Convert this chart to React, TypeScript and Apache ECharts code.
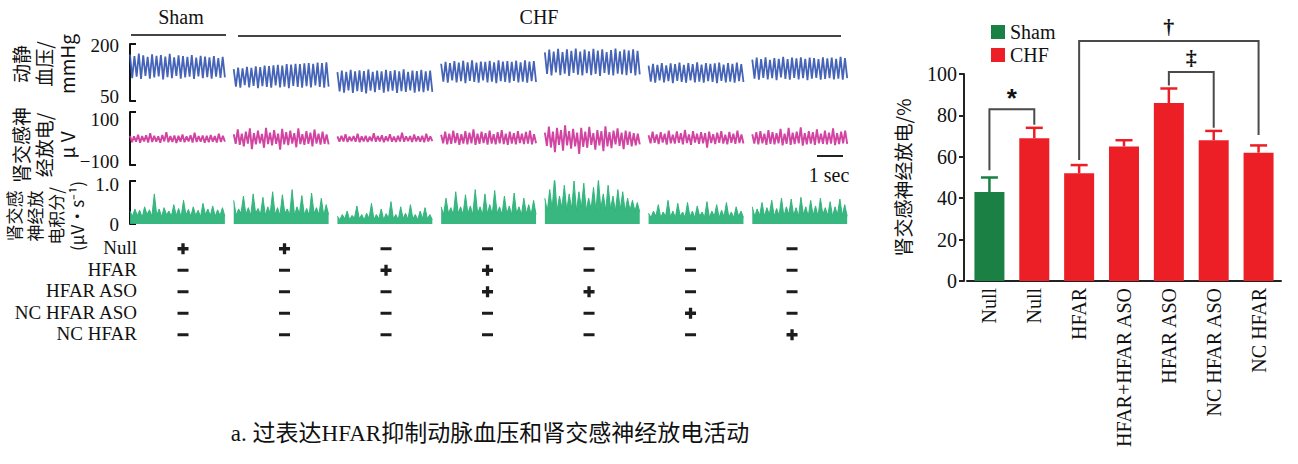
import React, { useEffect, useRef } from "react";
import * as echarts from "echarts";

// ---------- data ----------
const groupLabels = ["Sham", "CHF"];

// arterial blood pressure traces (mmHg), one list per panel
const bpPanels: number[][] = [
  [172, 110, 168, 114, 175, 108, 170, 116, 166, 109, 173, 112, 169, 115, 171, 107, 167, 113, 174, 110, 165, 116, 170, 109, 168, 112, 166, 114, 171, 108, 164, 115, 169, 110, 167, 113, 165, 109, 168, 114, 163, 111, 166, 112],
  [134, 88, 138, 85, 136, 92, 140, 86, 137, 90, 141, 84, 139, 89, 143, 87, 142, 85, 144, 91, 145, 86, 143, 88, 147, 84, 146, 90, 148, 87, 147, 85, 149, 89, 150, 86, 148, 91, 151, 87, 150, 85, 152, 88],
  [126, 75, 130, 72, 127, 78, 132, 71, 128, 76, 131, 74, 129, 70, 133, 77, 127, 73, 130, 79, 128, 72, 132, 75, 129, 77, 131, 71, 128, 76, 133, 74, 127, 78, 130, 72, 129, 75, 132, 73, 128, 77, 130, 74],
  [148, 101, 153, 98, 150, 104, 155, 99, 151, 102, 156, 97, 152, 103, 157, 100, 151, 98, 154, 104, 153, 99, 156, 101, 152, 97, 157, 102, 154, 100, 155, 98, 153, 103, 156, 99, 152, 101, 157, 98, 154, 102, 155, 100],
  [178, 121, 185, 117, 180, 125, 187, 118, 179, 122, 186, 116, 182, 124, 188, 119, 180, 117, 185, 123, 181, 118, 187, 121, 183, 116, 186, 124, 179, 119, 184, 117, 188, 122, 181, 120, 185, 118, 183, 123, 186, 117, 182, 120],
  [143, 101, 148, 98, 145, 104, 150, 99, 144, 102, 149, 97, 147, 103, 151, 100, 145, 98, 150, 104, 147, 99, 152, 101, 146, 98, 150, 102, 148, 100, 149, 97, 151, 103, 146, 99, 150, 101, 148, 98, 151, 102, 147, 100],
  [159, 109, 164, 106, 160, 111, 165, 107, 158, 110, 163, 105, 161, 112, 166, 108, 160, 106, 164, 111, 162, 107, 165, 110, 161, 105, 164, 109, 163, 111, 160, 106, 165, 108, 162, 110, 164, 107, 161, 109, 166, 106, 163, 110],
];

// renal sympathetic nerve activity traces (µV)
const nervePanels: number[][] = [
  [10, -14, 8, -12, 14, -16, 9, -11, 12, -15, 20, -13, 10, -12, 8, -16, 13, -11, 24, -14, 9, -13, 11, -17, 10, -12, 15, -14, 8, -11, 12, -15, 22, -13, 9, -12, 11, -16, 10, -14, 13, -12, 9, -15, 18, -13, 10, -12],
  [16, -20, 34, -24, 18, -30, 26, -19, 38, -40, 20, -22, 30, -18, 17, -35, 40, -21, 22, -26, 32, -20, 18, -42, 36, -22, 24, -25, 30, -19, 20, -33, 38, -21, 16, -24, 28, -20, 22, -30, 34, -19, 18, -23, 26, -20, 15, -22],
  [8, -12, 10, -11, 16, -13, 7, -10, 9, -12, 18, -14, 8, -11, 10, -13, 7, -10, 20, -12, 9, -11, 12, -14, 8, -10, 16, -12, 7, -13, 10, -11, 22, -12, 8, -10, 9, -13, 15, -11, 8, -12, 10, -14, 18, -11, 8, -10],
  [14, -18, 26, -22, 18, -20, 30, -17, 20, -24, 16, -19, 28, -22, 22, -18, 34, -24, 18, -20, 26, -17, 20, -23, 30, -19, 16, -22, 24, -18, 32, -21, 18, -24, 26, -19, 20, -22, 28, -17, 18, -21, 25, -19, 30, -22, 16, -18],
  [22, -28, 45, -34, 26, -52, 40, -24, 32, -46, 50, -26, 28, -38, 36, -30, 22, -58, 40, -32, 26, -35, 44, -24, 20, -42, 32, -26, 28, -48, 46, -30, 24, -36, 30, -22, 38, -28, 22, -40, 30, -24, 26, -30, 20, -26, 18, -22],
  [12, -18, 26, -16, 15, -21, 24, -15, 18, -23, 30, -18, 14, -19, 27, -16, 20, -22, 32, -17, 15, -24, 28, -15, 18, -20, 24, -18, 20, -34, 26, -17, 16, -21, 22, -16, 28, -19, 14, -22, 25, -16, 18, -20, 30, -17, 15, -19],
  [16, -19, 24, -22, 28, -18, 18, -24, 32, -20, 24, -22, 20, -18, 36, -26, 18, -20, 40, -24, 22, -21, 26, -18, 42, -27, 20, -22, 28, -19, 24, -24, 34, -18, 18, -20, 30, -22, 22, -19, 38, -25, 20, -21, 26, -18, 30, -20],
];

// integrated nerve activity traces (µV·s⁻¹)
const integPanels: number[][] = [
  [0.30, 0.18, 0.35, 0.20, 0.32, 0.15, 0.40, 0.22, 0.33, 0.18, 0.70, 0.20, 0.35, 0.17, 0.38, 0.22, 0.30, 0.18, 0.45, 0.20, 0.36, 0.16, 0.55, 0.21, 0.34, 0.18, 0.40, 0.20, 0.32, 0.17, 0.48, 0.22, 0.35, 0.19, 0.42, 0.18, 0.33, 0.20, 0.38, 0.18],
  [0.55, 0.20, 0.35, 0.25, 0.65, 0.22, 0.38, 0.20, 0.70, 0.25, 0.36, 0.22, 0.62, 0.20, 0.40, 0.24, 0.75, 0.22, 0.38, 0.20, 0.68, 0.25, 0.35, 0.22, 0.80, 0.20, 0.40, 0.24, 0.66, 0.22, 0.36, 0.20, 0.72, 0.25, 0.38, 0.22, 0.60, 0.20, 0.45, 0.22],
  [0.18, 0.10, 0.22, 0.12, 0.30, 0.10, 0.20, 0.14, 0.42, 0.12, 0.22, 0.10, 0.25, 0.13, 0.48, 0.11, 0.22, 0.12, 0.35, 0.10, 0.24, 0.14, 0.52, 0.12, 0.22, 0.10, 0.40, 0.13, 0.25, 0.11, 0.45, 0.12, 0.22, 0.10, 0.30, 0.13, 0.38, 0.12, 0.22, 0.10],
  [0.40, 0.22, 0.60, 0.25, 0.38, 0.22, 0.75, 0.25, 0.40, 0.22, 0.68, 0.24, 0.42, 0.22, 0.80, 0.25, 0.40, 0.22, 0.70, 0.24, 0.45, 0.22, 0.78, 0.25, 0.40, 0.22, 0.65, 0.24, 0.42, 0.22, 0.72, 0.25, 0.40, 0.22, 0.60, 0.24, 0.45, 0.22, 0.55, 0.22],
  [0.60, 0.30, 0.80, 0.35, 1.10, 0.30, 0.65, 0.38, 0.90, 0.32, 0.70, 0.35, 1.00, 0.30, 0.75, 0.38, 0.95, 0.32, 0.60, 0.35, 0.85, 0.30, 1.05, 0.36, 0.70, 0.32, 0.90, 0.35, 0.65, 0.30, 0.80, 0.34, 0.75, 0.30, 0.60, 0.32, 0.55, 0.30, 0.50, 0.28],
  [0.25, 0.15, 0.30, 0.18, 0.45, 0.15, 0.28, 0.18, 0.55, 0.16, 0.30, 0.15, 0.48, 0.18, 0.28, 0.15, 0.50, 0.17, 0.30, 0.15, 0.42, 0.18, 0.28, 0.16, 0.52, 0.15, 0.30, 0.18, 0.45, 0.15, 0.32, 0.17, 0.50, 0.16, 0.28, 0.15, 0.40, 0.18, 0.30, 0.15],
  [0.40, 0.18, 0.35, 0.20, 0.50, 0.18, 0.38, 0.22, 0.55, 0.18, 0.36, 0.20, 0.60, 0.18, 0.40, 0.22, 0.58, 0.20, 0.38, 0.18, 0.62, 0.22, 0.40, 0.18, 0.55, 0.20, 0.42, 0.18, 0.60, 0.22, 0.38, 0.20, 0.52, 0.18, 0.40, 0.22, 0.58, 0.20, 0.45, 0.18],
];

// axis ticks (bracket ends) and their labels
const bpTicks = [50, 200];
const bpTickLabels = ["50", "200"];
const nerveTicks = [-100, 100];
const nerveTickLabels = ["−100", "100"];
const integTicks = [0, 1];
const integTickLabels = ["0", "1.0"];

const treatmentRows = ["Null", "HFAR", "HFAR ASO", "NC HFAR ASO", "NC HFAR"];
const treatmentMatrix = [
  ["+", "+", "−", "−", "−", "−", "−"],
  ["−", "−", "+", "+", "−", "−", "−"],
  ["−", "−", "−", "+", "+", "−", "−"],
  ["−", "−", "−", "−", "−", "+", "−"],
  ["−", "−", "−", "−", "−", "−", "+"],
];

// bar chart (right)
const barCategories = ["Null", "Null", "HFAR", "HFAR+HFAR ASO", "HFAR ASO", "NC HFAR ASO", "NC HFAR"];
const shamValues = [43, "-", "-", "-", "-", "-", "-"];
const chfValues = ["-", 69, 52, 65, 86, 68, 62];
const barMeans = [43, 69, 52, 65, 86, 68, 62];
const errorTops = [50, 74, 56, 68, 93, 72.5, 65.5];
// [fromIndex, toIndex, bracketHeight, leftLegEnd, rightLegEnd]
const brackets = [
  [0, 1, 83, 53.5, 75.5],
  [2, 6, 116, 58.5, 70.5],
  [4, 5, 101, 94.5, 74],
];
const bracketMarks = ["*", "†", "‡"];

// ---------- style ----------
const SERIF = "'Liberation Serif', 'Times New Roman', serif";
const CJK = "'Noto Sans CJK SC', sans-serif";
const BLUE = "#3b5cb3";
const PINK = "#cf3a9c";
const GREEN_TRACE = "#2eb37a";
const GREEN_BAR = "#1a8043";
const RED_BAR = "#ec1f27";
const PANEL_FRAC = 0.915;
const PLUS_PATH = "path://M3.5,0H6.5V3.5H10V6.5H6.5V10H3.5V6.5H0V3.5H3.5Z";

function traceSeries(panels: number[][], idx: number, color: string, width: number, area: boolean) {
  return panels.map((vals, i) => ({
    type: "line",
    xAxisIndex: idx,
    yAxisIndex: idx,
    symbol: "none",
    silent: true,
    data: vals.map((v, j) => [i + (PANEL_FRAC * j) / (vals.length - 1), v]),
    lineStyle: { color, width, opacity: 0.95 },
    areaStyle: area ? { color, opacity: 0.95 } : undefined,
  }));
}

// nudge: fraction of axis span by which each end label sits inside the bracket (as in the figure)
function traceYAxis(idx: number, min: number, max: number, ticks: number[], labels: string[], nudge: number[]) {
  const span = max - min;
  const labelAt = [ticks[0] + nudge[0] * span, ticks[1] - nudge[1] * span];
  return {
    type: "value",
    gridIndex: idx,
    min,
    max,
    offset: 6,
    axisLine: { show: true, lineStyle: { color: "#111", width: 2 } },
    axisTick: { show: true, inside: true, length: 6, customValues: ticks, lineStyle: { color: "#111", width: 2 } },
    axisLabel: {
      customValues: labelAt,
      formatter: (v: number) => (Math.abs(v - labelAt[0]) < Math.abs(v - labelAt[1]) ? labels[0] : labels[1]),
      fontFamily: SERIF,
      fontSize: 19,
      lineHeight: 14,
      color: "#111",
      margin: 5,
    },
    splitLine: { show: false },
  };
}

export default function App() {
  const ref = useRef<HTMLDivElement>(null);
  useEffect(() => {
    document.body.style.margin = "0";
    const chart = echarts.init(ref.current!, undefined, { renderer: "svg" });

    const tableData: any[] = [];
    treatmentMatrix.forEach((row, r) => row.forEach((m, c) => tableData.push([c, r, m])));

    const option: any = {
      animation: false,
      backgroundColor: "#fff",
      grid: [
        { left: 130, top: 44, width: 726, height: 57 },
        { left: 130, top: 112, width: 726, height: 53 },
        { left: 130, top: 181, width: 726, height: 43 },
        { left: 142, top: 237, width: 708, height: 107.5 },
        { left: 967, top: 74, width: 314, height: 207 },
      ],
      xAxis: [
        { type: "value", gridIndex: 0, min: 0, max: 7, show: false },
        { type: "value", gridIndex: 1, min: 0, max: 7, show: false },
        { type: "value", gridIndex: 2, min: 0, max: 7, show: false },
        { type: "value", gridIndex: 3, min: -0.404, max: 6.571, show: false },
        {
          type: "category",
          gridIndex: 4,
          data: barCategories,
          axisLine: { show: true, lineStyle: { color: "#222", width: 2 } },
          axisTick: { show: false },
          axisLabel: { rotate: 90, fontFamily: SERIF, fontSize: 20, color: "#111", margin: 7, interval: 0 },
        },
      ],
      yAxis: [
        traceYAxis(0, 50, 200, bpTicks, bpTickLabels, [0.075, 0.035]),
        traceYAxis(1, -100, 100, nerveTicks, nerveTickLabels, [0.06, 0.135]),
        traceYAxis(2, 0, 1, integTicks, integTickLabels, [0, 0.07]),
        {
          type: "category",
          gridIndex: 3,
          data: treatmentRows,
          inverse: true,
          axisLine: { show: false },
          axisTick: { show: false },
          axisLabel: { interval: 0, fontFamily: SERIF, fontSize: 19, color: "#111", margin: 5 },
        },
        {
          type: "value",
          gridIndex: 4,
          min: 0,
          max: 100,
          interval: 20,
          offset: 3,
          axisLine: { show: true, lineStyle: { color: "#222", width: 2 } },
          axisTick: { show: true, length: 5, lineStyle: { color: "#222", width: 2 } },
          axisLabel: { fontFamily: SERIF, fontSize: 20, color: "#111", margin: 7 },
          splitLine: { show: false },
          name: "肾交感神经放电/%",
          nameLocation: "middle",
          nameRotate: 90,
          nameGap: 52,
          nameTextStyle: { fontFamily: CJK, fontSize: 19, color: "#111" },
        },
      ],
      legend: {
        data: [
          { name: "Sham", itemStyle: { color: GREEN_BAR } },
          { name: "CHF", itemStyle: { color: RED_BAR } },
        ],
        left: 986,
        top: 17,
        orient: "vertical",
        icon: "rect",
        itemWidth: 14,
        itemHeight: 14,
        itemGap: 3,
        textStyle: { fontFamily: SERIF, fontSize: 20, color: "#111" },
      },
      series: [
        ...traceSeries(bpPanels, 0, BLUE, 1.8, false),
        ...traceSeries(nervePanels, 1, PINK, 1.9, false),
        ...traceSeries(integPanels, 2, GREEN_TRACE, 1, true),
        {
          type: "scatter",
          xAxisIndex: 3,
          yAxisIndex: 3,
          silent: true,
          data: tableData,
          symbol: (v: any[]) => (v[2] === "+" ? PLUS_PATH : "rect"),
          symbolSize: (v: any[]) => (v[2] === "+" ? [11, 11] : [11, 3]),
          symbolOffset: [0, 1],
          itemStyle: { color: "#1c1c1c", opacity: 1 },
        },
        {
          name: "Sham",
          type: "bar",
          xAxisIndex: 4,
          yAxisIndex: 4,
          data: shamValues,
          barWidth: 30,
          barGap: "-100%",
          itemStyle: { color: GREEN_BAR },
        },
        {
          name: "CHF",
          type: "bar",
          xAxisIndex: 4,
          yAxisIndex: 4,
          data: chfValues,
          barWidth: 30,
          barGap: "-100%",
          itemStyle: { color: RED_BAR },
        },
        {
          type: "custom",
          xAxisIndex: 4,
          yAxisIndex: 4,
          silent: true,
          data: errorTops.map((t, i) => [i, t, barMeans[i]]),
          renderItem: (_p: any, api: any) => {
            const i = api.value(0);
            const p1 = api.coord([i, api.value(1)]);
            const p0 = api.coord([i, api.value(2)]);
            const color = i === 0 ? GREEN_BAR : RED_BAR;
            return {
              type: "group",
              children: [
                { type: "line", shape: { x1: p0[0], y1: p0[1], x2: p1[0], y2: p1[1] }, style: { stroke: color, lineWidth: 2.5 } },
                { type: "line", shape: { x1: p1[0] - 8.5, y1: p1[1], x2: p1[0] + 8.5, y2: p1[1] }, style: { stroke: color, lineWidth: 2.5 } },
              ],
            };
          },
        },
        {
          type: "custom",
          xAxisIndex: 4,
          yAxisIndex: 4,
          silent: true,
          clip: false,
          data: brackets,
          renderItem: (p: any, api: any) => {
            const a = api.coord([api.value(0), api.value(2)]);
            const b = api.coord([api.value(1), api.value(2)]);
            const la = api.coord([api.value(0), api.value(3)]);
            const rb = api.coord([api.value(1), api.value(4)]);
            const mark = bracketMarks[p.dataIndex];
            return {
              type: "group",
              children: [
                {
                  type: "polyline",
                  shape: { points: [[a[0], la[1]], [a[0], a[1]], [b[0], b[1]], [b[0], rb[1]]] },
                  style: { stroke: "#4a4a4a", lineWidth: 2, fill: "none" },
                },
                {
                  type: "text",
                  x: (a[0] + b[0]) / 2,
                  y: a[1] + (mark === "*" ? 2 : -3),
                  style: {
                    text: mark,
                    textAlign: "center",
                    textVerticalAlign: "bottom",
                    font: mark === "*" ? "bold 26px 'Liberation Sans', sans-serif" : "bold 22px 'Liberation Serif', serif",
                    fill: "#111",
                  },
                },
              ],
            };
          },
        },
      ],
      graphic: [
        // group labels above traces
        { type: "text", x: 181, y: 17, style: { text: groupLabels[0], font: `20px ${SERIF}`, fill: "#111", textAlign: "center", textVerticalAlign: "middle" } },
        { type: "text", x: 539, y: 17, style: { text: groupLabels[1], font: `20px ${SERIF}`, fill: "#111", textAlign: "center", textVerticalAlign: "middle" } },
        { type: "line", shape: { x1: 131, y1: 35, x2: 226, y2: 35 }, style: { stroke: "#444", lineWidth: 2 } },
        { type: "line", shape: { x1: 238, y1: 36, x2: 841, y2: 36 }, style: { stroke: "#444", lineWidth: 2 } },
        // y-axis titles of traces
        {
          type: "text", x: 43, y: 64, rotation: Math.PI / 2,
          style: { text: "动静\n血压/\nmmHg", font: `19px ${CJK}`, lineHeight: 23, fill: "#111", textAlign: "center", textVerticalAlign: "middle" },
        },
        {
          type: "text", x: 43, y: 145, rotation: Math.PI / 2,
          style: { text: "肾交感神\n经放电/\nμ V", font: `19px ${CJK}`, lineHeight: 23, fill: "#111", textAlign: "center", textVerticalAlign: "middle" },
        },
        {
          type: "text", x: 45, y: 216, rotation: Math.PI / 2,
          style: { text: "肾交感\n神经放\n电积分/\n(μV·s⁻¹)", font: `17px ${CJK}`, lineHeight: 21, fill: "#111", textAlign: "center", textVerticalAlign: "middle" },
        },
        // scale bar
        { type: "line", shape: { x1: 817, y1: 156, x2: 843, y2: 156 }, style: { stroke: "#222", lineWidth: 2 } },
        { type: "text", x: 829, y: 175, style: { text: "1 sec", font: `20px ${SERIF}`, fill: "#111", textAlign: "center", textVerticalAlign: "middle" } },
        // caption
        {
          type: "text", x: 490, y: 433,
          style: { text: "a. 过表达HFAR抑制动脉血压和肾交感神经放电活动", font: `23px 'Liberation Serif', 'Noto Sans CJK SC', serif`, fill: "#111", textAlign: "center", textVerticalAlign: "middle" },
        },
      ],
    };
    chart.setOption(option);
    return () => chart.dispose();
  }, []);
  return <div ref={ref} style={{ width: 1298, height: 464 }} />;
}
